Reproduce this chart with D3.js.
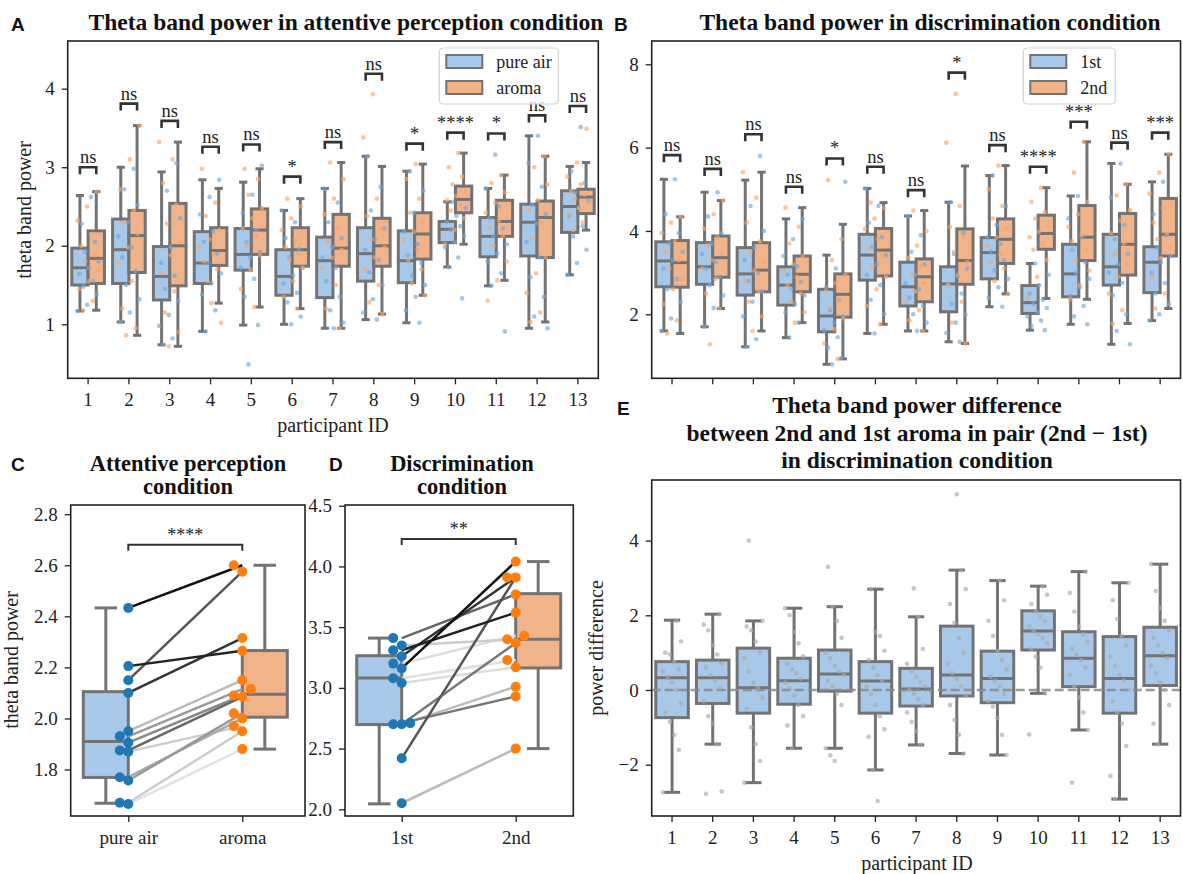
<!DOCTYPE html>
<html lang="en">
<head>
<meta charset="UTF-8" />
<title>Theta band power</title>
<script src="https://cdn.jsdelivr.net/npm/d3@7"></script>
<style>
  body { margin: 0; background: #fff; }
  svg { display: block; background: #fff; }
  text { font-family: "Liberation Serif", "Times New Roman", serif; fill: #222; }
  .letter { font-family: "Liberation Sans", Arial, sans-serif; font-weight: bold; font-size: 19px; fill: #111; }
  .title { font-weight: bold; font-size: 23.5px; fill: #111; }
  .title2 { font-weight: bold; font-size: 22.5px; fill: #111; }
  .tick text { font-size: 19px; }
  .lab { font-size: 20px; }
</style>
</head>
<body>
<svg id="fig" width="1183" height="874"></svg>
<script>
const participants = ["1","2","3","4","5","6","7","8","9","10","11","12","13"];

// box stats per participant: [low whisker, q1, median, q3, high whisker]
const boxAirA = [[1.17,1.50,1.72,1.97,2.64],[1.03,1.52,1.95,2.34,3.00],[0.74,1.31,1.61,1.99,2.94],[0.91,1.52,1.78,2.18,2.84],[0.99,1.69,1.89,2.22,2.81],[1.00,1.37,1.61,1.95,2.45],[0.95,1.34,1.81,2.11,2.73],[1.06,1.55,1.90,2.23,3.14],[1.02,1.53,1.81,2.19,2.95],[1.73,2.04,2.21,2.31,2.56],[1.49,1.86,2.12,2.36,2.73],[0.95,1.87,2.30,2.53,3.40],[1.63,2.17,2.50,2.70,3.01]];
const boxAromaA = [[1.18,1.52,1.84,2.19,2.69],[0.86,1.66,2.13,2.45,3.53],[0.72,1.49,2.00,2.54,3.32],[1.27,1.75,1.94,2.23,2.73],[1.22,1.89,2.20,2.47,2.98],[1.20,1.74,1.95,2.23,2.60],[0.95,1.74,1.97,2.40,3.06],[1.13,1.74,2.00,2.35,3.01],[1.37,1.83,2.15,2.42,3.04],[2.02,2.42,2.59,2.76,3.18],[1.56,2.12,2.31,2.58,2.90],[1.03,1.85,2.36,2.57,3.14],[2.20,2.41,2.62,2.72,3.06]];
const ptsAirA = [
  [1.17,1.25,1.38,1.48,1.55,1.64,1.72,1.80,1.92,2.05,2.28,2.62],
  [1.03,1.15,1.32,1.50,1.68,1.85,1.98,2.12,2.30,2.52,2.72,2.98],
  [0.74,0.82,0.98,1.12,1.30,1.45,1.62,1.78,1.98,2.35,2.70,3.05],
  [0.91,1.18,1.38,1.52,1.65,1.78,1.90,2.05,2.18,2.40,2.62,2.84],
  [0.49,0.99,1.35,1.58,1.72,1.85,1.92,2.05,2.20,2.42,2.65,3.02],
  [1.00,1.10,1.28,1.40,1.52,1.62,1.72,1.85,1.96,2.10,2.30,2.45],
  [0.95,1.02,1.18,1.35,1.55,1.72,1.85,1.98,2.10,2.30,2.55,2.73],
  [1.06,1.15,1.32,1.50,1.66,1.82,1.95,2.08,2.22,2.45,2.75,3.14],
  [1.02,1.18,1.35,1.50,1.62,1.78,1.88,2.02,2.18,2.42,2.70,2.95],
  [1.33,1.73,1.85,1.98,2.05,2.12,2.20,2.25,2.30,2.38,2.48,2.56],
  [0.91,1.49,1.65,1.80,1.90,2.02,2.12,2.22,2.35,2.50,2.73,3.16],
  [0.95,1.10,1.35,1.60,1.85,2.05,2.28,2.40,2.52,2.75,3.05,3.40],
  [1.63,1.78,1.95,2.12,2.25,2.38,2.48,2.58,2.68,2.80,2.95,3.51]];
const ptsAromaA = [
  [1.18,1.30,1.45,1.55,1.68,1.80,1.88,2.00,2.15,2.32,2.50,2.69],
  [0.86,0.95,1.20,1.55,1.78,1.98,2.15,2.30,2.45,2.72,3.10,3.53],
  [0.72,0.90,1.15,1.42,1.65,1.88,2.05,2.28,2.52,2.80,3.10,3.32],
  [1.27,1.02,1.55,1.70,1.80,1.90,1.98,2.08,2.20,2.38,2.55,2.98],
  [1.22,1.45,1.70,1.88,2.00,2.12,2.22,2.35,2.48,2.65,2.85,2.98],
  [1.20,1.35,1.55,1.72,1.82,1.90,1.98,2.08,2.20,2.35,2.50,2.60],
  [0.95,1.20,1.50,1.72,1.85,1.95,2.05,2.22,2.40,2.60,2.85,3.06],
  [1.13,1.28,1.50,1.70,1.85,1.98,2.08,2.22,2.38,2.60,3.38,3.93],
  [1.37,1.52,1.70,1.82,1.95,2.08,2.18,2.30,2.42,2.60,2.85,3.04],
  [2.02,2.20,2.35,2.45,2.52,2.58,2.63,2.70,2.78,2.88,3.00,3.18],
  [1.30,1.56,1.80,2.00,2.12,2.22,2.32,2.42,2.55,2.68,2.80,2.90],
  [1.03,1.15,1.40,1.65,1.85,2.10,2.30,2.45,2.58,2.78,3.00,3.14],
  [2.20,2.30,2.40,2.48,2.55,2.60,2.65,2.70,2.78,2.88,3.06,3.49]];
const sigA = ["ns","ns","ns","ns","ns","*","ns","ns","*","****","*","ns","ns"];
const sigAy = [3.00,3.81,3.59,3.26,3.29,2.88,3.32,4.19,3.30,3.44,3.43,3.66,3.78];

const boxFirstB = [[1.60,2.66,3.28,3.74,5.24],[1.70,2.72,3.14,3.72,4.93],[1.22,2.46,2.97,3.60,5.22],[1.44,2.22,2.70,3.14,4.29],[0.80,1.58,1.96,2.60,3.42],[1.54,2.82,3.42,3.92,5.02],[1.60,2.20,2.66,3.25,4.36],[1.34,2.06,2.73,3.14,4.69],[2.18,2.85,3.48,3.84,5.33],[1.62,2.02,2.28,2.69,3.22],[1.76,2.42,2.97,3.68,4.84],[1.28,2.70,3.14,3.92,5.62],[1.85,2.52,3.25,3.62,5.18]];
const boxSecondB = [[1.54,2.65,3.24,3.77,4.34],[2.14,2.89,3.36,3.88,4.73],[1.60,2.54,3.06,3.72,5.41],[1.80,2.54,2.96,3.40,4.56],[0.93,1.93,2.48,2.97,4.16],[1.76,2.92,3.54,4.06,4.68],[1.60,2.30,2.90,3.33,4.49],[1.30,2.72,3.29,4.05,5.56],[2.49,3.22,3.80,4.29,5.57],[2.38,3.56,3.94,4.38,5.04],[2.36,3.29,3.85,4.61,6.14],[1.78,2.94,3.68,4.42,5.12],[2.14,3.40,3.92,4.78,5.84]];
const ptsFirstB = [
  [1.60,1.90,2.30,2.60,2.85,3.10,3.30,3.50,3.70,3.95,4.40,5.24],
  [1.70,2.15,2.45,2.70,2.90,3.10,3.25,3.45,3.70,3.95,4.35,4.93],
  [1.22,1.40,1.95,2.30,2.55,2.80,3.00,3.30,3.60,4.00,4.60,5.80],
  [1.44,1.80,2.05,2.25,2.45,2.62,2.78,2.95,3.15,3.40,3.80,4.29],
  [0.80,0.95,1.20,1.45,1.62,1.80,1.95,2.10,2.35,2.65,3.10,5.18],
  [1.54,2.00,2.35,2.70,2.95,3.20,3.42,3.62,3.85,4.20,4.60,5.02],
  [1.60,1.80,2.00,2.20,2.40,2.60,2.75,2.95,3.20,3.50,3.90,4.36],
  [1.34,1.55,1.80,2.00,2.25,2.50,2.72,2.90,3.10,3.45,3.95,4.69],
  [2.18,2.40,2.65,2.85,3.05,3.30,3.50,3.68,3.85,4.15,4.60,5.33],
  [1.62,1.72,1.85,1.95,2.05,2.15,2.25,2.35,2.50,2.70,2.95,3.22],
  [1.76,1.95,2.20,2.45,2.65,2.85,3.00,3.25,3.55,3.85,4.30,4.84],
  [1.28,1.60,2.00,2.45,2.75,3.00,3.20,3.45,3.80,4.15,4.80,5.62],
  [1.85,2.00,2.25,2.50,2.75,3.00,3.25,3.40,3.60,3.90,4.40,5.18]];
const ptsSecondB = [
  [1.54,1.85,2.25,2.60,2.85,3.10,3.30,3.50,3.75,3.95,4.20,4.34],
  [1.28,2.14,2.50,2.85,3.10,3.30,3.45,3.65,3.85,4.05,4.40,4.73],
  [1.60,1.95,2.30,2.55,2.80,3.05,3.25,3.50,3.75,4.20,4.80,5.41],
  [1.80,2.05,2.30,2.50,2.70,2.90,3.05,3.20,3.40,3.70,4.10,4.56],
  [0.93,1.30,1.65,1.90,2.15,2.35,2.55,2.75,2.95,3.30,3.80,5.22],
  [1.76,2.20,2.60,2.90,3.15,3.40,3.60,3.80,4.05,4.30,4.55,4.68],
  [1.60,1.85,2.10,2.30,2.55,2.75,2.95,3.15,3.35,3.65,4.00,4.49],
  [1.30,1.80,2.30,2.70,2.95,3.25,3.50,3.85,4.10,4.60,6.12,7.29],
  [2.49,2.80,3.10,3.25,3.45,3.65,3.85,4.05,4.30,4.60,5.00,5.57],
  [2.38,2.90,3.30,3.55,3.70,3.85,3.98,4.10,4.30,4.45,4.70,5.04],
  [2.36,2.70,3.05,3.30,3.55,3.75,3.90,4.10,4.40,4.70,5.40,6.14],
  [1.78,2.10,2.50,2.90,3.20,3.45,3.70,3.95,4.25,4.50,4.85,5.12],
  [2.14,2.50,2.90,3.35,3.60,3.80,3.95,4.20,4.55,4.90,5.40,5.84]];
const sigB = ["ns","ns","ns","ns","*","ns","ns","*","ns","****","***","ns","***"];
const sigBy = [5.82,5.49,6.32,5.06,5.74,5.54,4.98,7.80,6.06,5.54,6.62,6.12,6.36];

// panel C (attentive perception) paired means
const cAir   = [2.433,2.205,2.150,2.100,1.950,1.930,1.905,1.875,1.870,1.770,1.757,1.670,1.665];
const cAroma = [2.600,2.265,2.575,2.315,2.150,2.115,2.090,2.085,1.970,2.000,2.020,1.950,1.880];
const cShade = ["#111","#222","#555","#333","#bbb","#999","#888","#666","#ccc","#aaa","#999","#ccc","#e3e3e3"];
const cBoxAir = [1.668,1.769,1.910,2.105,2.433];
const cBoxAroma = [1.880,2.005,2.095,2.266,2.600];

// panel D (discrimination) paired means
const dFirst  = [3.16,3.26,2.42,3.41,3.31,3.35,2.70,2.71,2.70,3.08,3.20,3.04,2.05];
const dSecond = [4.04,3.91,3.91,3.77,3.62,3.40,3.37,2.93,3.01,3.23,3.43,3.17,2.50];
const dShade  = ["#111","#333","#555","#666","#222","#ccc","#777","#777","#bbb","#e0e0e0","#ddd","#ddd","#bbb"];
const dBoxFirst = [2.045,2.698,3.082,3.265,3.410];
const dBoxSecond = [2.500,3.164,3.400,3.776,4.040];

// panel E difference (2nd - 1st)
const boxDiffE = [[-2.74,-0.74,0.33,0.76,1.87],[-1.45,-0.36,0.33,0.80,2.03],[-2.48,-0.62,0.06,1.12,1.85],[-1.56,-0.38,0.25,0.85,2.19],[-1.56,-0.03,0.43,1.07,2.23],[-2.14,-0.62,0.24,0.76,2.70],[-1.47,-0.43,0.03,0.58,1.96],[-1.70,-0.16,0.40,1.71,3.21],[-1.74,-0.34,0.31,1.04,2.93],[-0.09,1.07,1.58,2.12,2.78],[-1.07,0.09,0.85,1.56,3.17],[-2.92,-0.62,0.31,1.43,2.87],[-1.45,0.12,0.92,1.68,3.37]];
const ptsDiffE = [
  [-2.74,-1.60,-1.20,-0.85,-0.60,-0.35,0.00,0.20,0.35,0.50,0.55,0.75,0.95,1.00,1.30,1.85],
  [-2.78,-2.72,-1.45,-0.90,-0.70,-0.30,0.05,0.25,0.40,0.60,0.70,0.95,1.20,1.60,1.75,2.03],
  [4.00,-2.48,-1.90,-1.45,-1.00,-0.50,-0.20,0.05,0.20,0.50,0.85,1.00,1.30,1.60,1.70,1.85],
  [-1.56,-0.95,-0.70,-0.40,-0.15,0.05,0.20,0.30,0.45,0.55,0.70,0.90,1.25,1.55,2.00,2.19],
  [-1.90,-1.75,-1.56,-0.40,-0.10,0.10,0.25,0.40,0.50,0.65,0.85,1.00,1.40,1.85,2.23,3.30],
  [-2.97,-2.14,-1.25,-1.05,-0.70,-0.40,-0.10,0.10,0.25,0.40,0.60,0.80,1.05,1.45,1.55,2.70],
  [-1.47,-1.10,-0.85,-0.60,-0.40,-0.25,-0.10,0.00,0.10,0.20,0.35,0.50,0.70,1.10,1.96,2.72],
  [-1.70,-1.20,-0.80,-0.40,-0.15,0.10,0.30,0.45,0.70,1.00,1.40,1.80,2.30,2.70,3.21,5.24],
  [-1.74,-1.20,-0.75,-0.45,-0.30,-0.10,0.10,0.25,0.35,0.55,0.80,1.05,1.45,1.85,2.40,2.93],
  [-1.19,-0.09,0.60,0.90,1.10,1.25,1.40,1.50,1.60,1.70,1.85,1.95,2.10,2.30,2.55,2.78],
  [-2.48,-1.07,-0.60,-0.20,0.10,0.40,0.60,0.80,0.95,1.10,1.30,1.50,1.70,2.10,2.60,3.17],
  [-2.92,-2.30,-1.50,-0.90,-0.60,-0.30,0.00,0.25,0.40,0.65,0.90,1.20,1.45,1.90,2.40,2.87],
  [-1.45,-0.90,-0.40,0.00,0.20,0.45,0.65,0.85,1.00,1.20,1.40,1.60,1.85,2.20,2.65,3.37]];

const blueFill = "#a8c8ea", orangeFill = "#f1b38a";
const bluePt = "#6fa8dc", orangePt = "#f9a465";
const boxLine = "#737373";

const svg = d3.select("#fig");

function drawBox(g, cx, w, s, y, fill) {
  const ln = (x1, y1, x2, y2) =>
    g.append("line").attr("x1", x1).attr("y1", y1).attr("x2", x2).attr("y2", y2)
      .attr("stroke", boxLine).attr("stroke-width", 3);
  ln(cx, y(s[0]), cx, y(s[1]));
  ln(cx, y(s[3]), cx, y(s[4]));
  ln(cx - w / 4, y(s[0]), cx + w / 4, y(s[0]));
  ln(cx - w / 4, y(s[4]), cx + w / 4, y(s[4]));
  g.append("rect")
    .attr("x", cx - w / 2).attr("y", y(s[3]))
    .attr("width", w).attr("height", y(s[1]) - y(s[3]))
    .attr("fill", fill).attr("stroke", boxLine).attr("stroke-width", 3);
  ln(cx - w / 2, y(s[2]), cx + w / 2, y(s[2]));
}

function axes(g, x, y, o) {
  const ya = d3.axisLeft(y).tickValues(o.yTicks).tickSize(6).tickPadding(7).tickFormat(o.yFmt);
  g.append("g").attr("transform", `translate(${o.left},0)`).attr("color", "#222")
    .call(ya).call(a => a.select(".domain").remove())
    .selectAll("line").attr("stroke-width", 1.3);
  const xa = d3.axisBottom(x).tickSize(6).tickPadding(8.5);
  if (o.noXLabels) xa.tickFormat(() => "");
  g.append("g").attr("transform", `translate(0,${o.bottom})`).attr("color", "#222")
    .call(xa).call(a => a.select(".domain").remove())
    .selectAll("line").attr("stroke-width", 1.3);
  g.append("rect").attr("x", o.left).attr("y", o.top)
    .attr("width", o.right - o.left).attr("height", o.bottom - o.top)
    .attr("fill", "none").attr("stroke", "#222").attr("stroke-width", 1.6);
}

function bracket(g, x1, x2, yb, label, leg, lw, fs) {
  g.append("path").attr("d", `M${x1},${yb + leg}V${yb}H${x2}V${yb + leg}`)
    .attr("fill", "none").attr("stroke", "#333").attr("stroke-width", lw);
  g.append("text").attr("x", (x1 + x2) / 2).attr("y", yb - 4)
    .attr("text-anchor", "middle").attr("font-size", fs).text(label);
}

function legend(g, x0, labels) {
  g.append("rect").attr("x", x0).attr("y", 48).attr("width", labels.w).attr("height", 56)
    .attr("rx", 4).attr("fill", "#fff").attr("fill-opacity", 0.8)
    .attr("stroke", "#d0d0d0").attr("stroke-width", 1.2);
  [blueFill, orangeFill].forEach((c, i) => {
    g.append("rect").attr("x", x0 + 7).attr("y", 55 + i * 26).attr("width", 36).attr("height", 13)
      .attr("fill", c).attr("stroke", boxLine).attr("stroke-width", 2);
    g.append("text").attr("x", x0 + 57).attr("y", 68 + i * 26).attr("font-size", 18).text(labels.t[i]);
  });
}

function groupedPanel(o) {
  const g = svg.append("g");
  const x = d3.scaleBand().domain(participants).range([o.left, o.right]);
  const y = d3.scaleLinear().domain(o.yDomain).range([o.bottom, o.top]);
  const bw = x.bandwidth();
  const cx = p => x(p) + bw / 2;
  participants.forEach((p, i) => {
    drawBox(g, cx(p) - bw * 0.2, bw * 0.4, o.boxes[0][i], y, blueFill);
    drawBox(g, cx(p) + bw * 0.2, bw * 0.4, o.boxes[1][i], y, orangeFill);
  });
  participants.forEach((p, i) => {
    [0, 1].forEach(h => {
      o.points[h][i].forEach((v, j) => {
        const jit = (((j * 5 + h * 3 + i) % 12) / 11 - 0.5) * 21;
        g.append("circle").attr("cx", cx(p) + jit).attr("cy", y(v)).attr("r", 2.3)
          .attr("fill", h ? orangePt : bluePt).attr("fill-opacity", 0.65);
      });
    });
  });
  participants.forEach((p, i) => {
    bracket(g, cx(p) - bw * 0.2, cx(p) + bw * 0.2, y(o.sigY[i]), o.sig[i], 7, 2.6, 18.5);
  });
  axes(g, x, y, o);
  legend(g, o.legendX, o.legend);
}

function swarm(vals, y, d) {
  const placed = [];
  const order = d3.range(vals.length).sort((a, b) => vals[a] - vals[b]);
  const off = new Array(vals.length).fill(0);
  order.forEach(k => {
    const py = y(vals[k]);
    for (const c of [0, -d, d, -2 * d, 2 * d]) {
      if (placed.every(q => Math.hypot(q[0] - c, q[1] - py) >= d)) {
        off[k] = c; placed.push([c, py]); break;
      }
    }
  });
  return off;
}

function pairedPanel(o) {
  const g = svg.append("g");
  const x = d3.scalePoint().domain(o.cats).range(o.xRange);
  const y = d3.scaleLinear().domain(o.yDomain).range([o.bottom, o.top]);
  const bw = 45;
  const x0 = x(o.cats[0]), x1 = x(o.cats[1]);
  drawBox(g, x0 - bw / 2, bw, o.boxes[0], y, blueFill);
  drawBox(g, x1 + bw / 2, bw, o.boxes[1], y, orangeFill);
  const idx = d3.range(o.a.length).sort((p, q) =>
    d3.hsl(o.shade[q]).l - d3.hsl(o.shade[p]).l);
  idx.forEach(i => {
    g.append("line").attr("x1", x0).attr("y1", y(o.a[i])).attr("x2", x1).attr("y2", y(o.b[i]))
      .attr("stroke", o.shade[i]).attr("stroke-width", 2.5);
  });
  const offA = swarm(o.a, y, 8.5), offB = swarm(o.b, y, 8.5);
  o.a.forEach((v, i) => g.append("circle").attr("cx", x0 + offA[i]).attr("cy", y(v)).attr("r", 5).attr("fill", "#1f77b4"));
  o.b.forEach((v, i) => g.append("circle").attr("cx", x1 + offB[i]).attr("cy", y(v)).attr("r", 5).attr("fill", "#ff7f0e"));
  bracket(g, x0, x1, y(o.sigY), o.sig, 6, 2, 18);
  axes(g, x, y, o);
}

// Panel A
groupedPanel({
  left: 67.7, right: 598.3, top: 41, bottom: 378.3, yDomain: [0.313, 4.607],
  yTicks: [1, 2, 3, 4], yFmt: d3.format("d"), boxes: [boxAirA, boxAromaA], points: [ptsAirA, ptsAromaA],
  sig: sigA, sigY: sigAy, legendX: 439.3, legend: { w: 119, t: ["pure air", "aroma"] }
});
// Panel B
groupedPanel({
  left: 651.7, right: 1180.5, top: 41, bottom: 378.3, yDomain: [0.464, 8.559],
  yTicks: [2, 4, 6, 8], yFmt: d3.format("d"), boxes: [boxFirstB, boxSecondB], points: [ptsFirstB, ptsSecondB],
  sig: sigB, sigY: sigBy, legendX: 1023.3, legend: { w: 92, t: ["1st", "2nd"] }, noXLabels: true
});
// Panel C
pairedPanel({
  left: 70.7, right: 305, top: 505, bottom: 816, xRange: [128.3, 242.3],
  cats: ["pure air", "aroma"], yDomain: [1.618, 2.836], yTicks: [1.8, 2.0, 2.2, 2.4, 2.6, 2.8],
  yFmt: d3.format(".1f"), boxes: [cBoxAir, cBoxAroma], a: cAir, b: cAroma, shade: cShade,
  sig: "****", sigY: 2.68
});
// Panel D
pairedPanel({
  left: 345, right: 573.3, top: 505, bottom: 816, xRange: [401.7, 515.7],
  cats: ["1st", "2nd"], yDomain: [1.945, 4.506], yTicks: [2.0, 2.5, 3.0, 3.5, 4.0, 4.5],
  yFmt: d3.format(".1f"), boxes: [dBoxFirst, dBoxSecond], a: dFirst, b: dSecond, shade: dShade,
  sig: "**", sigY: 4.225
});
// Panel E
(function () {
  const o = { left: 651.7, right: 1180.5, top: 480, bottom: 816, yTicks: [-2, 0, 2, 4], yFmt: d3.format("d") };
  const g = svg.append("g");
  const x = d3.scaleBand().domain(participants).range([o.left, o.right]);
  const y = d3.scaleLinear().domain([-3.373, 5.622]).range([o.bottom, o.top]);
  const bw = x.bandwidth();
  participants.forEach((p, i) => drawBox(g, x(p) + bw / 2, bw * 0.8, boxDiffE[i], y, blueFill));
  g.append("line").attr("x1", o.left).attr("x2", o.right).attr("y1", y(0)).attr("y2", y(0))
    .attr("stroke", "#8a8a8a").attr("stroke-width", 2.4).attr("stroke-dasharray", "9,4").attr("stroke-opacity", 0.85);
  participants.forEach((p, i) => {
    ptsDiffE[i].forEach((v, j) => {
      const jit = ((((j * 7 + i) % 9) / 8) - 0.5) * 18;
      g.append("circle").attr("cx", x(p) + bw / 2 + jit).attr("cy", y(v)).attr("r", 2.3)
        .attr("fill", "#a9a9a9").attr("fill-opacity", 0.65);
    });
  });
  axes(g, x, y, o);
})();

// titles and labels
const txt = (x, y, s, cls, anchor = "middle") =>
  svg.append("text").attr("x", x).attr("y", y).attr("class", cls).attr("text-anchor", anchor).text(s);
txt(11, 31, "A", "letter", "start");
txt(614, 31, "B", "letter", "start");
txt(11, 471, "C", "letter", "start");
txt(329, 471, "D", "letter", "start");
txt(617, 415, "E", "letter", "start");
txt(346, 30, "Theta band power in attentive perception condition", "title");
txt(930, 30, "Theta band power in discrimination condition", "title");
txt(188, 471, "Attentive perception", "title2");
txt(188, 494, "condition", "title2");
txt(462, 471, "Discrimination", "title2");
txt(462, 494, "condition", "title2");
txt(917, 413, "Theta band power difference", "title");
txt(917, 441, "between 2nd and 1st aroma in pair (2nd \u2212 1st)", "title");
txt(917, 468, "in discrimination condition", "title");
txt(333, 432, "participant ID", "lab");
txt(917, 870, "participant ID", "lab");
svg.append("text").attr("class", "lab").attr("text-anchor", "middle")
  .attr("transform", "translate(31,210) rotate(-90)").text("theta band power");
svg.append("text").attr("class", "lab").attr("text-anchor", "middle")
  .attr("transform", "translate(18,660) rotate(-90)").text("theta band power");
svg.append("text").attr("class", "lab").attr("text-anchor", "middle")
  .attr("transform", "translate(603,648) rotate(-90)").text("power difference");
</script>
</body>
</html>
